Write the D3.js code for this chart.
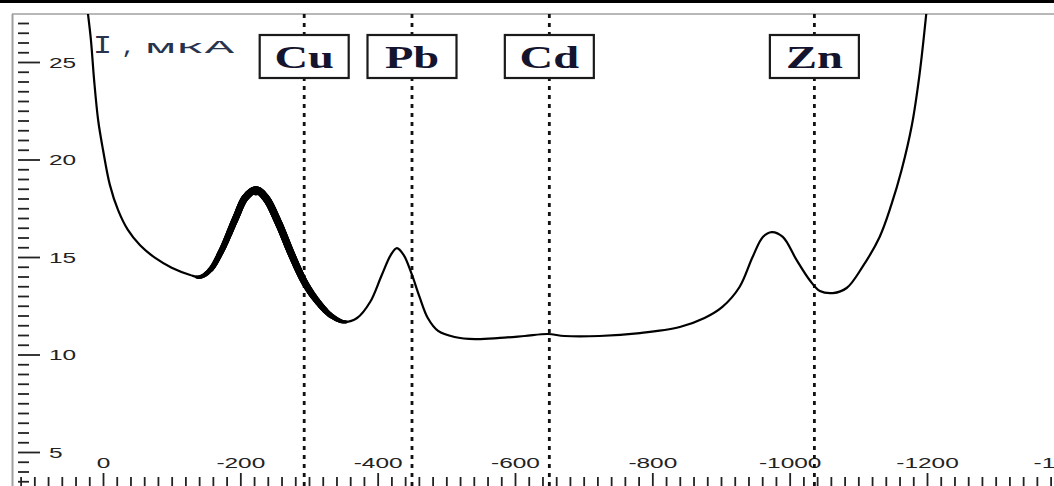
<!DOCTYPE html>
<html>
<head>
<meta charset="utf-8">
<script src="https://cdn.jsdelivr.net/npm/d3@7"></script>
<style>
  html, body { margin: 0; padding: 0; background: #fff; }
  svg { display: block; }
</style>
</head>
<body>
<div id="chart"></div>
<script>
// ── Data ─────────────────────────────────────────────────────
var potential = [22, 17.5, 13, 7, 0, -10, -22, -36, -54, -76, -100, -127, -141, -156,
  -173, -192, -208, -223, -237, -255, -275, -294, -313, -333, -352, -370, -389,
  -406, -419, -428, -438, -450, -461, -473, -488, -512, -542, -578, -614, -648,
  -672, -723, -782, -840, -876, -902, -927, -946, -961, -974, -990, -1010, -1029,
  -1044, -1063, -1083, -1106, -1131, -1148, -1163, -1178, -1189, -1199];
var current = [27.5, 26.1, 24.1, 22.0, 20.5, 18.7, 17.4, 16.4, 15.6, 14.95, 14.45,
  14.08, 13.97, 14.33, 15.36, 16.9, 18.08, 18.44, 18.03, 16.79, 15.1, 13.67, 12.69,
  11.97, 11.67, 11.87, 12.69, 14.08, 15.1, 15.46, 15.1, 14.08, 12.95, 11.87, 11.21,
  10.9, 10.79, 10.85, 10.95, 11.05, 10.95, 10.95, 11.1, 11.41, 11.87, 12.44, 13.46,
  15.0, 16.03, 16.28, 16.03, 14.85, 13.82, 13.26, 13.15, 13.41, 14.49, 16.03, 17.67,
  19.46, 21.77, 24.33, 27.5];

// highlighted (thick) stretch of the curve around the Cu peak
var thickRange = [-135, -355];

var elements = ["Cu", "Pb", "Cd", "Zn"];
var elementPotentials = [-293, -450, -650, -1036];

var xMajorTicks = [0, -200, -400, -600, -800, -1000, -1200, -1400];
var yMajorTicks = [5, 10, 15, 20, 25];
var yLabelParts = ["I", ",", "мкА"];

// ── Layout ───────────────────────────────────────────────────
var W = 1054, H = 486;
var frame = { left: 12, top: 14 };
var fmt = function (d) { return String(d); };   // plain hyphen minus, like the original

var svg = d3.select("#chart").append("svg")
  .attr("width", W).attr("height", H)
  .attr("font-family", "DejaVu Sans, sans-serif");

var x = d3.scaleLinear().domain([0, -1200]).range([103, 927]);
var y = d3.scaleLinear().domain([5, 25]).range([452, 62]);

svg.append("defs").append("clipPath").attr("id", "plot-clip")
  .append("rect")
  .attr("x", frame.left).attr("y", frame.top)
  .attr("width", W - frame.left).attr("height", H - frame.top);

// top black bar and grey frame
svg.append("rect").attr("x", 0).attr("y", 0).attr("width", W).attr("height", 3).attr("fill", "#000");
svg.append("line")
  .attr("x1", frame.left).attr("x2", W).attr("y1", frame.top).attr("y2", frame.top)
  .attr("stroke", "#a0a0a0").attr("stroke-width", 1.6);
svg.append("line")
  .attr("x1", frame.left + 0.5).attr("x2", frame.left + 0.5).attr("y1", frame.top).attr("y2", H)
  .attr("stroke", "#a0a0a0").attr("stroke-width", 2);

// ── Y axis (ticks inside the frame, every 0.5) ───────────────
var yMinor = d3.range(3.5, 27.01, 0.5).filter(function (v) { return v % 5 !== 0; });

svg.append("g").attr("transform", "translate(18,0)")
  .call(d3.axisRight(y).tickValues(yMinor).tickSize(11).tickFormat(""))
  .call(function (g) {
    g.select(".domain").remove();
    g.selectAll(".tick line").attr("stroke", "#222").attr("stroke-width", 1.8);
  });

svg.append("g").attr("transform", "translate(18,0)")
  .call(d3.axisRight(y).tickValues(yMajorTicks).tickSize(22).tickPadding(0).tickFormat(fmt))
  .call(function (g) {
    g.select(".domain").remove();
    g.selectAll(".tick line").attr("stroke", "#222").attr("stroke-width", 1.8);
    g.selectAll(".tick text")
      .attr("x", null)
      .attr("dy", null)
      .attr("fill", "#222")
      .attr("font-size", 15)
      .attr("text-anchor", "start")
      .attr("transform", "translate(31,5) scale(1.63,1)");
  });

// ── X axis (ticks along the bottom, every 20 mV) ─────────────
var xMinor = d3.range(120, -1400, -20).filter(function (v) { return v % 200 !== 0; });

svg.append("g").attr("transform", "translate(0," + H + ")")
  .call(d3.axisTop(x).tickValues(xMinor).tickSize(9).tickFormat(""))
  .call(function (g) {
    g.select(".domain").remove();
    g.selectAll(".tick line").attr("stroke", "#222").attr("stroke-width", 1.8);
  });

svg.append("g").attr("transform", "translate(0," + H + ")")
  .call(d3.axisTop(x).tickValues(xMajorTicks).tickSize(13).tickPadding(4).tickFormat(fmt))
  .call(function (g) {
    g.select(".domain").remove();
    g.selectAll(".tick line").attr("stroke", "#222").attr("stroke-width", 1.8);
    g.selectAll(".tick text")
      .attr("y", null)
      .attr("dy", null)
      .attr("fill", "#222")
      .attr("font-size", 15)
      .attr("transform", "translate(0,-18) scale(1.63,1)");
  });

// ── Element marker lines ─────────────────────────────────────
svg.append("g").selectAll("line")
  .data(elementPotentials)
  .join("line")
  .attr("x1", function (d) { return x(d); })
  .attr("x2", function (d) { return x(d); })
  .attr("y1", frame.top).attr("y2", H)
  .attr("stroke", "#111").attr("stroke-width", 2.8)
  .attr("stroke-dasharray", "4,5");

// ── Curve ────────────────────────────────────────────────────
var pts = potential.map(function (p, i) { return [x(p), y(current[i])]; });
var line = d3.line().curve(d3.curveCatmullRom.alpha(0.5));

var plot = svg.append("g").attr("clip-path", "url(#plot-clip)");
var path = plot.append("path")
  .attr("d", line(pts))
  .attr("fill", "none")
  .attr("stroke", "#000")
  .attr("stroke-width", 2.2)
  .attr("stroke-linejoin", "round");

// thick stretch: sample the drawn curve and lay down a tapering stroke
var node = path.node();
var total = node.getTotalLength();
var x0 = x(thickRange[0]), x1 = x(thickRange[1]);
var samples = [];
for (var s = 0; s <= total; s += 0.7) {
  var p = node.getPointAtLength(s);
  if (p.x >= x0 && p.x <= x1) samples.push(p);
}
plot.append("g").selectAll("circle")
  .data(samples)
  .join("circle")
  .attr("cx", function (d) { return d.x; })
  .attr("cy", function (d) { return d.y; })
  .attr("r", function (d) {
    var t = (d.x - x0) / (x1 - x0);
    return 1.2 + 2.5 * Math.pow(Math.sin(Math.PI * t), 0.55);
  })
  .attr("fill", "#000");

// blob on the Cu peak
var peakIdx = d3.maxIndex(current.slice(0, 25).map(function (c, i) {
  return potential[i] <= thickRange[0] ? c : -Infinity;
}));
plot.append("ellipse")
  .attr("cx", x(potential[peakIdx]))
  .attr("cy", y(current[peakIdx]) + 1)
  .attr("rx", 6.5).attr("ry", 4.5)
  .attr("fill", "#000");

// ── Element label boxes ──────────────────────────────────────
var boxW = 89, boxH = 43, boxTop = 35;
var labels = svg.append("g").selectAll("g")
  .data(elements)
  .join("g")
  .attr("transform", function (d, i) {
    return "translate(" + x(elementPotentials[i]) + "," + boxTop + ")";
  });

labels.append("rect")
  .attr("x", -boxW / 2).attr("y", 0)
  .attr("width", boxW).attr("height", boxH)
  .attr("fill", "#fff")
  .attr("stroke", "#1a1a1a").attr("stroke-width", 2.2);

labels.append("text")
  .attr("transform", "translate(0,33) scale(1.5,1)")
  .attr("text-anchor", "middle")
  .attr("font-family", "Liberation Serif, serif")
  .attr("font-weight", "bold")
  .attr("font-size", 31)
  .attr("fill", "#14142e")
  .text(function (d) { return d; });

// ── Y label "I , мкА" ────────────────────────────────────────
var yl = svg.append("text")
  .attr("y", 53)
  .attr("font-family", "Liberation Mono, monospace")
  .attr("fill", "#28334d");
yl.append("tspan").attr("x", 93).attr("font-size", 25)
  .attr("textLength", 19).attr("lengthAdjust", "spacingAndGlyphs")
  .text(yLabelParts[0]);
yl.append("tspan").attr("x", 122).attr("font-size", 20).attr("font-weight", "bold")
  .text(yLabelParts[1]);
yl.append("tspan").attr("x", 146).attr("font-size", 19)
  .attr("textLength", 88).attr("lengthAdjust", "spacingAndGlyphs")
  .text(yLabelParts[2]);
</script>
</body>
</html>
